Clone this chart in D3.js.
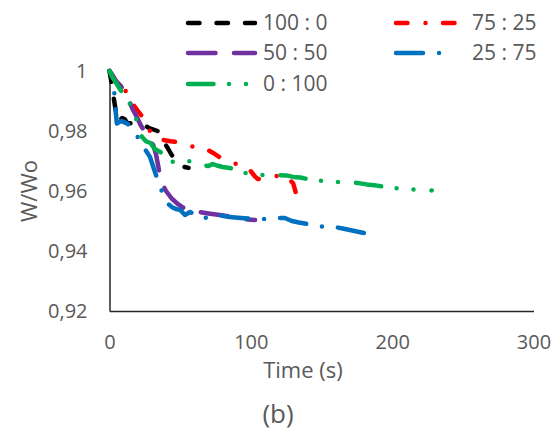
<!DOCTYPE html>
<html>
<head>
<meta charset="utf-8">
<script src="https://cdn.jsdelivr.net/npm/d3@7"></script>
<style>
  body { margin: 0; background: #fff; }
  text { font-family: "Open Sans", "Noto Sans", sans-serif; fill: #595959; }
</style>
</head>
<body>
<div id="chart"></div>
<script>
// series names, in drawing order
var names = ["100 : 0", "75 : 25", "50 : 50", "25 : 75", "0 : 100"];
var colors = ["#000000", "#ff0000", "#7030a0", "#0070c0", "#00b050"];
var dashes = ["11.5,17", "11.5,18,0,17.5", "27.5,18.5", "27,16,0,16", "25.5,15.5,0,17,0,18"];
// time where a dash of each line starts in the picture
var dashStart = [38.5, 69, 63, 77.5, 67];

// time (s) and W/Wo
var t100 = [0,1.5,3,4,5,6,7.5,9,11,12.5,16,20,24,28,31,34,36,38,41,44,47,50,53,56];
var v100 = [1.0,0.996,0.991,0.988,0.985,0.983,0.9838,0.9843,0.9838,0.9827,0.9825,0.9822,0.982,0.981,0.9805,0.980,0.978,0.9765,0.9745,0.972,0.9705,0.969,0.968,0.9677];

var t75 = [0,3,6,9,12.8,15,17,20,23.4,26,29,32,35,38,43,48,54,59.6,65,69.5,74,78.7,84,88,93,98,101,103,105,109,113.5,118,123,126,128,130,131.5,132.6];
var v75 = [1.0,0.998,0.996,0.9945,0.9927,0.990,0.9887,0.9867,0.9847,0.982,0.9797,0.978,0.9772,0.977,0.9766,0.9763,0.9755,0.9747,0.9742,0.9737,0.9725,0.971,0.970,0.9693,0.9685,0.9677,0.966,0.9648,0.964,0.9642,0.9647,0.965,0.9653,0.9648,0.9635,0.9625,0.960,0.9577];

var t50 = [0,2.5,5,8,11,14,16.6,19,22,25,28,31,33,35,37,40,44,48,52,55,58,63,70,78,85,92,98,103];
var v50 = [1.0,0.998,0.9965,0.995,0.9927,0.990,0.987,0.985,0.982,0.9797,0.977,0.9753,0.972,0.967,0.9627,0.960,0.9575,0.9558,0.9545,0.9537,0.9535,0.953,0.9525,0.952,0.9515,0.951,0.9505,0.9503];

var t25 = [0,1.5,3,3.5,4,4.5,5.2,7,8.8,11,13,15.5,18,20.5,23,26,28.7,31,33.5,35.7,38,40,42,44,47,50,53.4,57,60,62,65,69,73,77,85,93,100,103,109,114,119,124,129,134,140,148,154,159,165,170,175,180];
var v25 = [1.0,0.999,0.996,0.992,0.988,0.986,0.9825,0.983,0.9833,0.9828,0.9823,0.981,0.9797,0.9775,0.9753,0.9733,0.9713,0.968,0.9645,0.9613,0.959,0.957,0.9555,0.9547,0.954,0.9537,0.952,0.953,0.9522,0.9513,0.9512,0.951,0.9513,0.952,0.9513,0.951,0.9508,0.9507,0.9507,0.9508,0.951,0.951,0.950,0.9495,0.949,0.9483,0.948,0.948,0.9475,0.947,0.9465,0.946];

var t0 = [0,2,4,6,8,10,11,13,16,19.5,23,26,29,32,34,36,40,45,50,55,60,65.5,70,73,76,80,85,90,96,102,108,114,119,125,130,135,140,146,152,158,164,170,175,182,189,196,202,207,213,220,228];
var v0 = [1.0,0.998,0.9965,0.995,0.9935,0.9925,0.992,0.990,0.988,0.983,0.978,0.9765,0.976,0.974,0.9735,0.973,0.971,0.9697,0.970,0.9703,0.969,0.9687,0.9683,0.969,0.9685,0.968,0.9677,0.967,0.966,0.9657,0.9653,0.9653,0.9653,0.9652,0.9647,0.9645,0.964,0.9636,0.9633,0.9631,0.963,0.9628,0.9627,0.9622,0.9618,0.9613,0.961,0.9607,0.9605,0.9604,0.9602];

var times = [t100, t75, t50, t25, t0];
var values = [v100, v75, v50, v25, v0];

var xTicks = [0, 100, 200, 300];
var yTicks = [0.92, 0.94, 0.96, 0.98, 1];

var width = 554, height = 432;
var svg = d3.select("#chart").append("svg")
    .attr("width", width)
    .attr("height", height);

var x = d3.scaleLinear().domain([0, 300]).range([109.5, 533.5]);
var y = d3.scaleLinear().domain([0.92, 1]).range([311, 71]);

// axes, no tick marks
svg.append("g")
    .attr("transform", "translate(" + x(0) + ",0)")
    .call(d3.axisLeft(y).tickValues(yTicks).tickSize(0).tickPadding(22)
        .tickFormat(function(d){ return d === 1 ? "1" : d.toFixed(2).replace(".", ","); }));

svg.append("g")
    .attr("transform", "translate(0," + y(0.92) + ")")
    .call(d3.axisBottom(x).tickValues(xTicks).tickSize(0).tickPadding(24));

svg.selectAll(".domain").attr("stroke", "#262626").attr("stroke-width", 1.5);
svg.selectAll(".tick text")
    .attr("fill", "#595959")
    .style("font-size", "20px")
    .style("font-family", "'Open Sans', sans-serif");

var line = d3.line()
    .x(function(d){ return x(d[0]); })
    .y(function(d){ return y(d[1]); });

// shift the dash pattern so that a dash begins at dashStart
function phase(node, t, pattern){
    var period = d3.sum(pattern.split(",").map(Number));
    var lo = 0, hi = node.getTotalLength();
    for (var k = 0; k < 30; k++) {
        var mid = (lo + hi) / 2;
        if (node.getPointAtLength(mid).x < x(t) + 2.25) lo = mid; else hi = mid;
    }
    return period - (lo % period);
}

var plot = svg.append("g");
names.forEach(function(n, i){
    var pts = times[i].map(function(t, j){ return [t, values[i][j]]; });
    var p = plot.append("path")
        .datum(pts)
        .attr("d", line)
        .attr("fill", "none")
        .attr("stroke", colors[i])
        .attr("stroke-width", 4.5)
        .attr("stroke-linecap", "round")
        .attr("stroke-linejoin", "round")
        .attr("stroke-dasharray", dashes[i]);
    p.attr("stroke-dashoffset", phase(p.node(), dashStart[i], dashes[i]));
});

// legend: two columns
var legPos = [[188, 23], [396, 23], [188, 53], [396, 53], [188, 84]];
var legText = [263, 472];
var leg = svg.append("g");
names.forEach(function(n, i){
    var p = legPos[i];
    var len = i % 2 === 0 ? 67 : 59;
    leg.append("line")
        .attr("x1", p[0]).attr("x2", p[0] + len)
        .attr("y1", p[1]).attr("y2", p[1])
        .attr("stroke", colors[i])
        .attr("stroke-width", 4.5)
        .attr("stroke-linecap", "round")
        .attr("stroke-dasharray", dashes[i]);
    leg.append("text")
        .attr("x", legText[i % 2])
        .attr("y", p[1])
        .attr("dy", "0.35em")
        .style("font-size", "21px")
        .text(n);
});

svg.append("text")
    .attr("x", 303).attr("y", 378)
    .attr("text-anchor", "middle")
    .style("font-size", "22px")
    .text("Time (s)");

svg.append("text")
    .attr("transform", "translate(37,191) rotate(-90)")
    .attr("text-anchor", "middle")
    .style("font-size", "22px")
    .text("W/Wo");

svg.append("text")
    .attr("x", 278).attr("y", 423)
    .attr("text-anchor", "middle")
    .style("font-size", "26px")
    .text("(b)");
</script>
</body>
</html>
